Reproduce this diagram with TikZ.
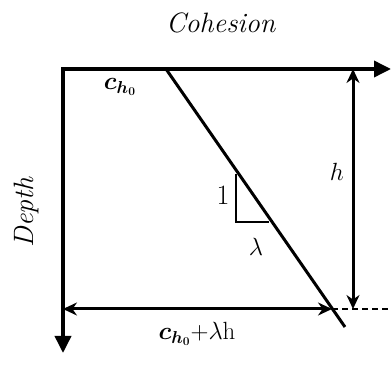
\documentclass[tikz,border=0pt]{standalone}
\usepackage{bm}
\usetikzlibrary{arrows.meta}
\begin{document}
\begin{tikzpicture}[x=1pt,y=-1pt,
  axis/.style={line width=3.6pt,-{Triangle[length=17pt,width=16pt]}},
  dim/.style={line width=3pt,{Stealth[length=14pt,width=13pt]}-{Stealth[length=14pt,width=13pt]}},
  lbl/.style={inner sep=0pt,font=\fontsize{28}{32}\selectfont}]
\useasboundingbox (0,0) rectangle (392,377);
\coordinate (O) at (63,69);
\coordinate (X) at (391,69);
\coordinate (Y) at (63,353);
\coordinate (L1) at (166,69);
\coordinate (L2) at (345,327);
\coordinate (P) at (332,309);
\coordinate (HT) at (353,69);
\coordinate (HB) at (353,309);
\coordinate (DE) at (392,309);
\coordinate (T1) at (236,174);
\coordinate (T2) at (236,222);
\coordinate (T3) at (269,222);
\draw[axis] ([xshift=-1.8pt]O) -- (X);
\draw[axis] (O) -- (Y);
\draw[line width=3pt] (L1) -- (L2);
\draw[line width=2.6pt] (T1) -- (T2) -- (T3);
\draw[dim] (HT) -- (HB);
\draw[dim] (63,309) coordinate (DL) -- (P);
\draw[line width=1.4pt,dash pattern=on 6pt off 4pt] (P) -- (DE);
\node[lbl] (coh) at (221,23) {\textit{Cohesion}};
\node[lbl,rotate=90] (dep) at (27,212) {\textit{Depth}};
\node[lbl,font=\fontsize{26}{30}\selectfont] (ch) at (120,87) {$\bm{c_{h_0}}$};
\node[lbl] (one) at (223,195) {1};
\node[lbl,font=\fontsize{24}{28}\selectfont] (lam) at (256,247) {$\lambda$};
\node[lbl,font=\fontsize{30}{34}\selectfont] (h) at (337,172) {$h$};
\node[lbl,font=\fontsize{26}{30}\selectfont] (sum) at (197,334) {$\bm{c_{h_0}}\mathbf{+}\lambda\mathrm{h}$};
\end{tikzpicture}
\end{document}
